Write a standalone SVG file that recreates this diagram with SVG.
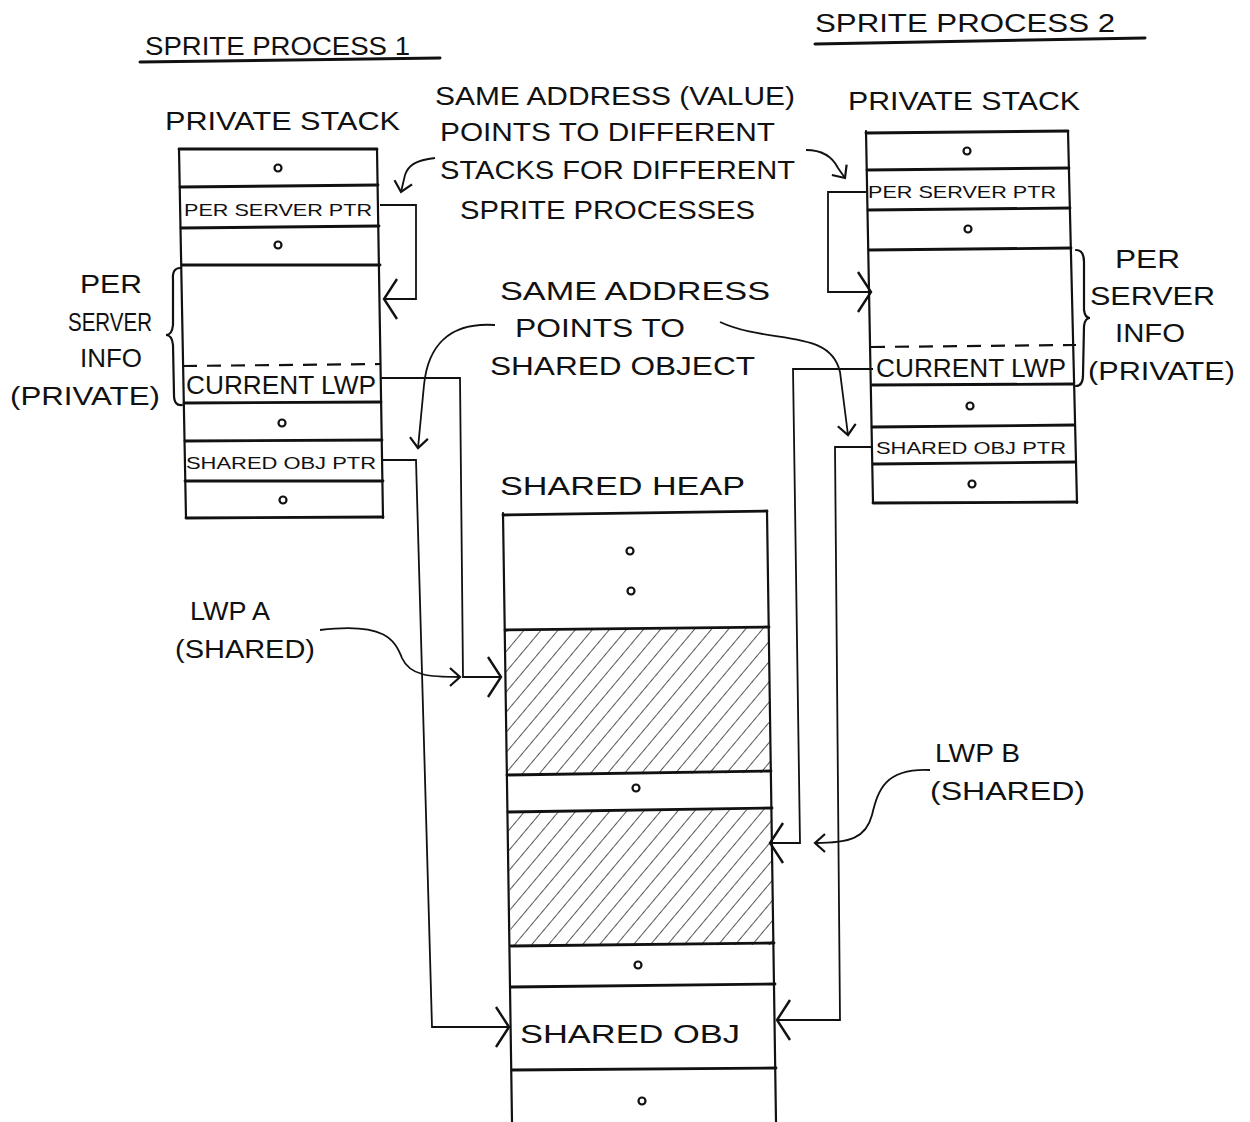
<svg xmlns="http://www.w3.org/2000/svg" width="1250" height="1122" viewBox="0 0 1250 1122">
<style>
text{font-family:"Liberation Sans","DejaVu Sans",sans-serif;fill:#111;}
.t{font-size:26px;}
.s{font-size:17px;}
.b{fill:none;stroke:#111;stroke-width:2.2;stroke-linecap:round;}
.h{fill:none;stroke:#111;stroke-width:2.8;stroke-linecap:round;}
.d{fill:none;stroke:#111;stroke-width:2.2;stroke-dasharray:14 10;}
.c{fill:none;stroke:#111;stroke-width:1.8;}
.dot{fill:none;stroke:#111;stroke-width:2.2;}
.ul{fill:none;stroke:#111;stroke-width:3;stroke-linecap:round;}
</style>
<defs>
<pattern id="hatch" width="13" height="13" patternUnits="userSpaceOnUse" patternTransform="rotate(40)">
<line x1="0" y1="0" x2="0" y2="13" stroke="#111" stroke-width="1.4"/>
</pattern>
<marker id="big" markerUnits="userSpaceOnUse" viewBox="-18 -22 22 44" refX="0" refY="0" markerWidth="22" markerHeight="44" orient="auto">
<path d="M-13,-20 L0,0 L-13,20" fill="none" stroke="#111" stroke-width="2.4"/>
</marker>
<marker id="sm" markerUnits="userSpaceOnUse" viewBox="-14 -12 16 24" refX="0" refY="0" markerWidth="16" markerHeight="24" orient="auto">
<path d="M-10,-9 L0,0 L-10,9" fill="none" stroke="#111" stroke-width="2.2"/>
</marker>
</defs>
<rect width="1250" height="1122" fill="#fff"/>

<g id="titles">
<text class="t" x="145" y="55" textLength="265" lengthAdjust="spacingAndGlyphs" font-size="28">SPRITE PROCESS 1</text>
<path class="ul" d="M140,62 L440,58"/>
<text class="t" x="815" y="32" textLength="300" lengthAdjust="spacingAndGlyphs" font-size="28">SPRITE PROCESS 2</text>
<path class="ul" d="M815,44 L1145,38"/>
</g>

<g id="left-stack">
<text class="t" x="165" y="130" textLength="235" lengthAdjust="spacingAndGlyphs">PRIVATE STACK</text>
<path class="b" d="M179,149 L186,518 M377,149 L383,518"/>
<path class="h" d="M179,149 L377,149 M180,187 L378,185 M181,228 L379,226 M182,265 L380,265 M184,403 L381,402 M185,441 L382,440 M185,481 L383,481 M186,518 L383,517"/>
<path class="d" d="M183,366 L381,364"/>
<circle class="dot" cx="278" cy="168" r="3.5"/>
<text class="s" x="184" y="216" textLength="188" lengthAdjust="spacingAndGlyphs">PER SERVER PTR</text>
<circle class="dot" cx="278" cy="245" r="3.5"/>
<text class="t" x="186" y="394" font-size="21" textLength="190" lengthAdjust="spacingAndGlyphs">CURRENT LWP</text>
<circle class="dot" cx="282" cy="423" r="3.5"/>
<text class="s" x="186" y="469" font-size="16" textLength="190" lengthAdjust="spacingAndGlyphs">SHARED OBJ PTR</text>
<circle class="dot" cx="283" cy="500" r="3.5"/>
<path class="b" d="M180,268 Q172,268 173,280 L173,325 Q172,335 166,335 Q172,335 173,345 L174,395 Q174,406 182,405"/>
<text class="t" x="80" y="293" textLength="62" lengthAdjust="spacingAndGlyphs">PER</text>
<text class="t" x="68" y="331" textLength="84" lengthAdjust="spacingAndGlyphs">SERVER</text>
<text class="t" x="80" y="367" textLength="62" lengthAdjust="spacingAndGlyphs">INFO</text>
<text class="t" x="10" y="405" textLength="150" lengthAdjust="spacingAndGlyphs">(PRIVATE)</text>
</g>

<g id="right-stack">
<text class="t" x="848" y="110" textLength="232" lengthAdjust="spacingAndGlyphs">PRIVATE STACK</text>
<path class="b" d="M866,131 L873,503 M1068,131 L1077,503"/>
<path class="h" d="M866,133 L1068,131 M867,170 L1069,168 M868,210 L1070,208 M869,250 L1071,248 M872,385 L1073,384 M872,427 L1074,425 M873,464 L1075,462 M873,503 L1077,502"/>
<path class="d" d="M871,347 L1076,345"/>
<circle class="dot" cx="967" cy="151" r="3.5"/>
<text class="s" x="868" y="198" textLength="188" lengthAdjust="spacingAndGlyphs">PER SERVER PTR</text>
<circle class="dot" cx="968" cy="229" r="3.5"/>
<text class="t" x="876" y="377" font-size="21" textLength="190" lengthAdjust="spacingAndGlyphs">CURRENT LWP</text>
<circle class="dot" cx="970" cy="406" r="3.5"/>
<text class="s" x="876" y="454" font-size="16" textLength="190" lengthAdjust="spacingAndGlyphs">SHARED OBJ PTR</text>
<circle class="dot" cx="972" cy="484" r="3.5"/>
<path class="b" d="M1076,250 Q1084,250 1084,262 L1084,310 Q1085,318 1090,318 Q1085,318 1084,326 L1083,375 Q1083,386 1076,386"/>
<text class="t" x="1115" y="268" textLength="65" lengthAdjust="spacingAndGlyphs">PER</text>
<text class="t" x="1090" y="305" textLength="125" lengthAdjust="spacingAndGlyphs">SERVER</text>
<text class="t" x="1115" y="342" textLength="70" lengthAdjust="spacingAndGlyphs">INFO</text>
<text class="t" x="1088" y="380" textLength="147" lengthAdjust="spacingAndGlyphs">(PRIVATE)</text>
</g>

<g id="shared-heap">
<text class="t" x="500" y="495" textLength="245" lengthAdjust="spacingAndGlyphs">SHARED HEAP</text>
<polygon points="505,630 769,627 771,773 507,775" fill="url(#hatch)"/>
<polygon points="508,812 772,808 774,945 511,946" fill="url(#hatch)"/>
<path class="b" d="M503,513 L512,1122 M767,511 L776,1122"/>
<path class="h" d="M503,515 L767,511 M505,630 L769,627 M507,775 L771,771 M508,812 L772,808 M511,946 L774,943 M511,987 L775,984 M512,1070 L776,1068"/>
<circle class="dot" cx="630" cy="551" r="3.5"/>
<circle class="dot" cx="631" cy="591" r="3.5"/>
<circle class="dot" cx="636" cy="788" r="3.5"/>
<circle class="dot" cx="638" cy="965" r="3.5"/>
<text class="t" x="520" y="1043" textLength="220" lengthAdjust="spacingAndGlyphs">SHARED OBJ</text>
<circle class="dot" cx="642" cy="1101" r="3.5"/>
</g>

<g id="annotations">
<text class="t" x="435" y="105" textLength="360" lengthAdjust="spacingAndGlyphs">SAME ADDRESS (VALUE)</text>
<text class="t" x="440" y="141" textLength="335" lengthAdjust="spacingAndGlyphs">POINTS TO DIFFERENT</text>
<text class="t" x="440" y="179" textLength="355" lengthAdjust="spacingAndGlyphs">STACKS FOR DIFFERENT</text>
<text class="t" x="460" y="219" textLength="295" lengthAdjust="spacingAndGlyphs">SPRITE PROCESSES</text>
<text class="t" x="500" y="300" textLength="270" lengthAdjust="spacingAndGlyphs">SAME ADDRESS</text>
<text class="t" x="515" y="337" textLength="170" lengthAdjust="spacingAndGlyphs">POINTS TO</text>
<text class="t" x="490" y="375" textLength="265" lengthAdjust="spacingAndGlyphs">SHARED OBJECT</text>
<text class="t" x="190" y="620" textLength="80" lengthAdjust="spacingAndGlyphs">LWP A</text>
<text class="t" x="175" y="658" textLength="140" lengthAdjust="spacingAndGlyphs">(SHARED)</text>
<text class="t" x="935" y="762" textLength="85" lengthAdjust="spacingAndGlyphs">LWP B</text>
<text class="t" x="930" y="800" textLength="155" lengthAdjust="spacingAndGlyphs">(SHARED)</text>
</g>

<g id="connectors">
<path class="c" d="M380,205 H416 V299 H384" marker-end="url(#big)"/>
<path class="c" d="M381,378 H460 L463,677 H501" marker-end="url(#big)"/>
<path class="c" d="M383,460 H416 L432,1027 H509" marker-end="url(#big)"/>
<path class="c" d="M866,192 H828 V292 H871" marker-end="url(#big)"/>
<path class="c" d="M873,369 H793 L800,843 H770" marker-end="url(#big)"/>
<path class="c" d="M873,447 H835 L840,1020 H777" marker-end="url(#big)"/>
<path class="c" d="M320,630 C385,622 395,640 402,658 C410,676 430,677 460,677" marker-end="url(#sm)"/>
<path class="c" d="M930,770 C885,768 878,790 872,815 C866,838 850,843 815,843" marker-end="url(#sm)"/>
<path class="c" d="M435,158 C415,160 408,166 405,175 L401,192" marker-end="url(#sm)"/>
<path class="c" d="M806,150 C826,150 834,160 838,168 L845,178" marker-end="url(#sm)"/>
<path class="c" d="M495,325 C450,322 428,345 424,385 L418,448" marker-end="url(#sm)"/>
<path class="c" d="M720,322 C770,345 830,328 840,372 L848,435" marker-end="url(#sm)"/>
</g>
</svg>
